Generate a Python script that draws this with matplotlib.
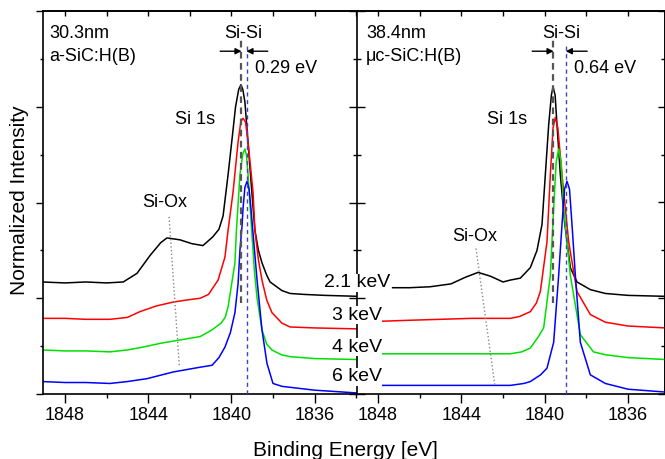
import matplotlib
matplotlib.use("Agg")
import matplotlib.pyplot as plt
from matplotlib.ticker import MultipleLocator

plt.rcParams['font.family'] = ['Liberation Sans', 'DejaVu Sans']

# Si 1s spectra, a-SiC:H(B) 30.3 nm (left panel)
a_E_21 = [1849.1, 1848.0, 1847.0, 1846.0, 1845.2, 1844.54, 1843.9, 1843.4, 1843.1, 1842.47, 1841.9,
          1841.37, 1840.9, 1840.6, 1840.4, 1840.16, 1839.95, 1839.8, 1839.65, 1839.54, 1839.45, 1839.35,
          1839.2, 1839.05, 1838.87, 1838.7, 1838.53, 1838.3, 1838.14, 1837.57, 1837.18, 1836.5, 1835.5,
          1833.9]
a_I_21 = [1.17, 1.16, 1.17, 1.16, 1.17, 1.26, 1.45, 1.58, 1.63, 1.61, 1.57,
          1.55, 1.64, 1.72, 1.86, 2.29, 2.70, 3.00, 3.18, 3.23, 3.18, 3.05,
          2.63, 2.20, 1.71, 1.50, 1.37, 1.24, 1.17, 1.08, 1.05, 1.04, 1.03,
          1.02]
a_E_3 = [1849.1, 1848.0, 1847.0, 1845.84, 1845.0, 1844.4, 1843.6, 1842.8, 1842.2, 1841.5,
         1841.1, 1840.64, 1840.31, 1840.16, 1839.92, 1839.68, 1839.55, 1839.44, 1839.32, 1839.20,
         1838.96, 1838.87, 1838.7, 1838.53, 1838.3, 1838.05, 1837.57, 1837.18, 1836.0, 1833.9]
a_I_3 = [0.79, 0.79, 0.78, 0.78, 0.80, 0.86, 0.92, 0.96, 0.98, 1.00,
         1.04, 1.19, 1.43, 1.71, 2.11, 2.63, 2.84, 2.88, 2.84, 2.63,
         2.11, 1.71, 1.40, 1.19, 0.98, 0.85, 0.74, 0.70, 0.69, 0.68]
a_E_4 = [1849.1, 1848.0, 1847.0, 1845.84, 1845.0, 1844.25, 1843.4, 1842.6, 1841.5, 1840.93,
         1840.5, 1840.3, 1840.16, 1839.83, 1839.76, 1839.59, 1839.45, 1839.35, 1839.28, 1839.20,
         1839.01, 1838.9, 1838.77, 1838.53, 1838.3, 1838.05, 1837.6, 1837.18, 1836.0, 1833.9]
a_I_4 = [0.46, 0.45, 0.45, 0.44, 0.46, 0.49, 0.53, 0.56, 0.60, 0.67,
         0.74, 0.80, 0.91, 1.37, 1.70, 2.29, 2.51, 2.56, 2.50, 2.29,
         1.66, 1.30, 1.01, 0.67, 0.52, 0.46, 0.41, 0.39, 0.37, 0.36]
a_E_6 = [1849.1, 1848.0, 1847.0, 1845.84, 1845.0, 1844.06, 1842.8, 1841.5, 1840.93, 1840.6,
         1840.31, 1840.05, 1839.83, 1839.68, 1839.59, 1839.49, 1839.44, 1839.35, 1839.25, 1839.15,
         1839.06, 1838.96, 1838.77, 1838.53, 1838.29, 1838.0, 1837.57, 1837.18, 1836.0, 1833.9]
a_I_6 = [0.13, 0.12, 0.12, 0.11, 0.13, 0.16, 0.23, 0.28, 0.30, 0.38,
         0.49, 0.64, 0.85, 1.15, 1.50, 1.75, 1.94, 2.16, 2.22, 2.14,
         1.94, 1.68, 1.20, 0.67, 0.32, 0.11, 0.08, 0.07, 0.04, 0.01]

# Si 1s spectra, uc-SiC:H(B) 38.4 nm (right panel)
u_E_21 = [1847.3, 1846.5, 1845.5, 1844.5, 1843.8, 1843.2, 1842.6, 1842.0, 1841.65, 1841.17,
          1840.69, 1840.37, 1840.13, 1839.97, 1839.81, 1839.68, 1839.6, 1839.5, 1839.41, 1839.25,
          1839.05, 1838.77, 1838.45, 1837.81, 1837.09, 1836.0, 1834.2]
u_I_21 = [1.11, 1.11, 1.12, 1.15, 1.22, 1.27, 1.23, 1.17, 1.19, 1.21,
          1.32, 1.50, 1.77, 2.29, 2.81, 3.12, 3.21, 3.12, 2.81, 2.29,
          1.80, 1.32, 1.17, 1.09, 1.05, 1.03, 1.02]
u_E_3 = [1847.8, 1846.5, 1845.0, 1843.5, 1842.5, 1841.65, 1841.2, 1840.69, 1840.4, 1840.21,
         1839.89, 1839.73, 1839.6, 1839.49, 1839.37, 1839.17, 1838.85, 1838.45, 1837.81, 1837.09,
         1836.0, 1834.2]
u_I_3 = [0.76, 0.77, 0.78, 0.79, 0.79, 0.79, 0.81, 0.86, 0.95, 1.07,
         1.59, 2.29, 2.78, 2.89, 2.78, 2.29, 1.59, 1.07, 0.83, 0.75,
         0.71, 0.69]
u_E_4 = [1847.8, 1846.0, 1844.0, 1842.5, 1841.65, 1841.1, 1840.69, 1840.3, 1840.05, 1839.73,
         1839.57, 1839.45, 1839.33, 1839.21, 1839.09, 1838.77, 1838.29, 1837.66, 1837.09, 1836.0,
         1834.2]
u_I_4 = [0.42, 0.42, 0.42, 0.42, 0.42, 0.44, 0.48, 0.60, 0.69, 1.24,
         1.94, 2.42, 2.56, 2.42, 1.94, 1.24, 0.62, 0.44, 0.41, 0.38,
         0.36]
u_E_6 = [1847.8, 1846.0, 1844.0, 1842.5, 1841.65, 1841.0, 1840.69, 1840.2, 1839.89, 1839.57,
         1839.33, 1839.17, 1839.05, 1838.93, 1838.81, 1838.69, 1838.53, 1838.29, 1837.81, 1837.09,
         1836.0, 1834.2]
u_I_6 = [0.09, 0.09, 0.09, 0.09, 0.09, 0.11, 0.13, 0.20, 0.27, 0.54,
         1.24, 1.77, 2.14, 2.22, 2.14, 1.77, 1.24, 0.54, 0.20, 0.11,
         0.05, 0.02]

energies = ["2.1 keV", "3 keV", "4 keV", "6 keV"]
energy_label_y = [1.16, 0.825, 0.49, 0.178]
colors = ["black", "red", "#00e000", "blue"]

# Si-Si peak positions (2.1 keV, 6 keV) and Si-Ox guide lines
a_SiSi = [1839.54, 1839.25]
u_SiSi = [1839.60, 1838.96]
a_SiOx_E = [1843.0, 1842.5]
a_SiOx_I = [1.85, 0.28]
u_SiOx_E = [1843.3, 1842.4]
u_SiOx_I = [1.52, 0.10]

W, H = 665, 459
fig = plt.figure(figsize=(W / 100, H / 100), dpi=100)


def px_axes(x0, x1, y0, y1):
    return [x0 / W, 1 - y1 / H, (x1 - x0) / W, (y1 - y0) / H]


ax1 = fig.add_axes(px_axes(43, 357, 11, 394))
ax2 = fig.add_axes(px_axes(357, 664.5, 11, 394))


def style(ax, xlim, yleft_dir, yleft_len):
    ax.set_xlim(*xlim)
    ax.set_ylim(0, 4.0)
    ax.xaxis.set_major_locator(MultipleLocator(4))
    ax.xaxis.set_minor_locator(MultipleLocator(2))
    ax.yaxis.set_major_locator(MultipleLocator(1))
    ax.yaxis.set_minor_locator(MultipleLocator(0.5))
    ax.tick_params(axis='x', which='major', direction='out', length=6.5, width=1,
                   labelsize=13, pad=3)
    ax.tick_params(axis='x', which='minor', direction='out', length=3, width=1)
    ax.tick_params(axis='y', which='major', direction=yleft_dir, length=yleft_len[0],
                   width=1, labelleft=False)
    ax.tick_params(axis='y', which='minor', direction=yleft_dir, length=yleft_len[1], width=1)
    ax.xaxis.set_major_formatter(plt.FuncFormatter(lambda v, p: f"{v:.0f}"))
    for s in ax.spines.values():
        s.set_linewidth(1.2)
    top = ax.secondary_xaxis('top')
    top.xaxis.set_major_locator(MultipleLocator(4))
    top.xaxis.set_minor_locator(MultipleLocator(2))
    top.tick_params(which='both', direction='in', length=3.5, width=1, labeltop=False)
    top.spines['top'].set_linewidth(1.2)


style(ax1, (1849.06, 1833.96), 'out', (5, 2.5))
ax1.spines['right'].set_visible(False)
style(ax2, (1849.01, 1834.25), 'inout', (11, 6))
right = ax2.secondary_yaxis('right')
right.yaxis.set_major_locator(MultipleLocator(1))
right.yaxis.set_minor_locator(MultipleLocator(0.5))
right.tick_params(which='major', direction='in', length=5, width=1, labelright=False)
right.tick_params(which='minor', direction='in', length=3, width=1)
right.spines['right'].set_linewidth(1.2)

for E, I, c in zip([a_E_21, a_E_3, a_E_4, a_E_6], [a_I_21, a_I_3, a_I_4, a_I_6], colors):
    ax1.plot(E, I, color=c, lw=1.1)
for E, I, c in zip([u_E_21, u_E_3, u_E_4, u_E_6], [u_I_21, u_I_3, u_I_4, u_I_6], colors):
    ax2.plot(E, I, color=c, lw=1.1)

for ax, pk, oxE, oxI in [(ax1, a_SiSi, a_SiOx_E, a_SiOx_I), (ax2, u_SiSi, u_SiOx_E, u_SiOx_I)]:
    ax.plot([pk[0], pk[0]], [0.95, 3.70], color='#555555', lw=1.6, dashes=(3, 2), zorder=3)
    ax.plot([pk[1], pk[1]], [0, 3.64], color='#4040c8', lw=1.0, dashes=(3, 2.5), zorder=3)
    ax.plot(oxE, oxI, color='#888888', lw=1.0, ls=':', zorder=3)
    arrow = dict(arrowstyle='-|>', color='black', lw=1, mutation_scale=9, shrinkA=0, shrinkB=0)
    ax.annotate('', xy=(pk[0] - 0.03, 3.58), xytext=(pk[0] + 1.0, 3.58), arrowprops=arrow)
    ax.annotate('', xy=(pk[1] + 0.03, 3.58), xytext=(pk[1] - 1.0, 3.58), arrowprops=arrow)

fs = 13
ax1.text(1848.77, 3.77, "30.3nm", fontsize=fs, ha='left', va='center')
ax1.text(1848.77, 3.52, "a-SiC:H(B)", fontsize=fs, ha='left', va='center')
ax1.text(1839.44, 3.77, "Si-Si", fontsize=fs, ha='center', va='center')
ax1.text(1838.87, 3.40, "0.29 eV", fontsize=fs, ha='left', va='center')
ax1.text(1841.75, 2.87, "Si 1s", fontsize=fs, ha='center', va='center')
ax1.text(1843.19, 2.00, "Si-Ox", fontsize=fs, ha='center', va='center')

ax2.text(1848.58, 3.77, "38.4nm", fontsize=fs, ha='left', va='center')
ax2.text(1848.58, 3.52, "\u03bcc-SiC:H(B)", fontsize=fs, ha='left', va='center')
ax2.text(1839.2, 3.77, "Si-Si", fontsize=fs, ha='center', va='center')
ax2.text(1838.58, 3.40, "0.64 eV", fontsize=fs, ha='left', va='center')
ax2.text(1841.8, 2.87, "Si 1s", fontsize=fs, ha='center', va='center')
ax2.text(1843.38, 1.64, "Si-Ox", fontsize=fs, ha='center', va='center')

for lab, y in zip(energies, energy_label_y):
    ax2.text(1849.01, y, lab, fontsize=14, ha='center', va='center', zorder=10, clip_on=False,
             bbox=dict(facecolor='white', edgecolor='none', pad=0.3))

fig.text(20 / W, 1 - 200 / H, "Normalized Intensity", rotation=90, ha='center', va='center',
         fontsize=15)
fig.text(345 / W, 1 - 450 / H, "Binding Energy [eV]", ha='center', va='center', fontsize=15)

fig.savefig("out.png", dpi=100)
